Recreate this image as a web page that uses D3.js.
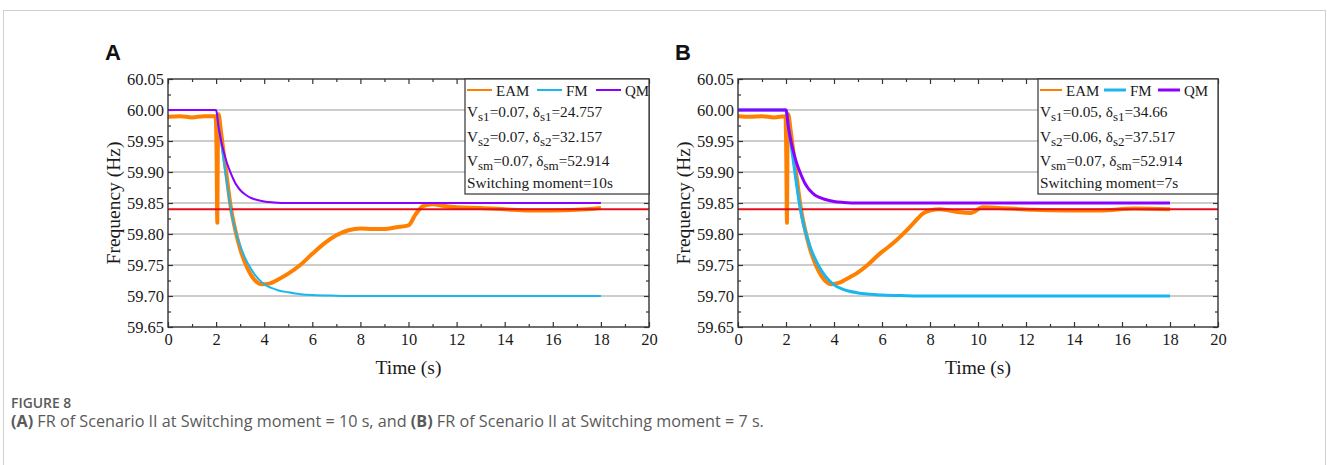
<!DOCTYPE html>
<html>
<head>
<meta charset="utf-8">
<script src="https://cdn.jsdelivr.net/npm/d3@7"></script>
<style>
  html, body { margin: 0; padding: 0; background: #fff; }
  svg { display: block; }
</style>
</head>
<body>
<svg id="chart" width="1327" height="465"></svg>
<script>
// ---------------- DATA ----------------
const xTicks = [0, 2, 4, 6, 8, 10, 12, 14, 16, 18, 20];
const yTicks = [59.65, 59.70, 59.75, 59.80, 59.85, 59.90, 59.95, 60.00, 60.05];
const seriesNames = ["EAM", "FM", "QM"];
const referenceFreq = 59.84;

// Panel A (switching moment = 10 s)
const qmA = [[0,60.00],[2.0,60.00],[2.1,59.973],[2.2,59.952],[2.3,59.935],[2.4,59.921],[2.5,59.909],[2.6,59.899],[2.7,59.890],[2.8,59.882],[2.9,59.876],[3.0,59.871],[3.2,59.864],[3.4,59.859],[3.6,59.856],[3.8,59.854],[4.0,59.8525],[4.4,59.851],[5.0,59.850],[8,59.850],[18,59.850]];
const fmA = [[0,60.00],[2.0,60.00],[2.1,59.975],[2.2,59.949],[2.3,59.922],[2.4,59.895],[2.5,59.868],[2.6,59.843],[2.7,59.822],[2.8,59.807],[2.9,59.793],[3.0,59.781],[3.2,59.762],[3.4,59.747],[3.6,59.735],[3.8,59.726],[4.0,59.719],[4.3,59.713],[4.6,59.709],[5.0,59.706],[5.5,59.703],[6.0,59.7015],[7.0,59.7005],[8.0,59.700],[18,59.700]];
const eamA = [[0,59.989],[0.5,59.990],[1.0,59.988],[1.5,59.990],[1.98,59.990],[2.02,59.93],[2.05,59.818],[2.07,59.93],[2.1,59.993],[2.2,59.966],[2.3,59.935],[2.45,59.890],[2.6,59.846],[2.8,59.806],[3.0,59.776],[3.3,59.745],[3.6,59.726],[3.9,59.719],[4.2,59.720],[4.6,59.727],[5.0,59.736],[5.5,59.750],[6.0,59.768],[6.5,59.785],[7.0,59.798],[7.5,59.806],[8.0,59.809],[8.5,59.808],[9.0,59.808],[9.5,59.811],[10.0,59.814],[10.3,59.832],[10.6,59.845],[11.0,59.848],[11.5,59.845],[12.0,59.843],[13.0,59.842],[14.0,59.840],[15.0,59.838],[16.0,59.838],[17.0,59.839],[18.0,59.842]];
const vsA = ["0.07", "0.07", "0.07"];
const deltaA = ["24.757", "32.157", "52.914"];
const switchA = "10s";

// Panel B (switching moment = 7 s)
const qmB = [[0,60.00],[2.0,60.00],[2.1,59.972],[2.2,59.951],[2.3,59.934],[2.4,59.920],[2.5,59.908],[2.6,59.898],[2.7,59.889],[2.8,59.881],[2.9,59.875],[3.0,59.870],[3.2,59.863],[3.4,59.859],[3.6,59.856],[3.8,59.854],[4.0,59.8525],[4.4,59.851],[5.0,59.850],[8,59.850],[18,59.850]];
const fmB = [[0,60.00],[2.0,60.00],[2.1,59.974],[2.2,59.947],[2.3,59.919],[2.4,59.891],[2.5,59.864],[2.6,59.840],[2.7,59.820],[2.8,59.805],[2.9,59.792],[3.0,59.780],[3.2,59.761],[3.4,59.746],[3.6,59.734],[3.8,59.725],[4.0,59.718],[4.3,59.712],[4.6,59.708],[5.0,59.705],[5.5,59.703],[6.0,59.7015],[7.0,59.7005],[8.0,59.700],[18,59.700]];
const eamB = [[0,59.990],[0.5,59.989],[1.0,59.990],[1.5,59.988],[1.98,59.990],[2.01,59.93],[2.04,59.818],[2.06,59.93],[2.09,59.993],[2.2,59.965],[2.3,59.935],[2.45,59.890],[2.6,59.846],[2.8,59.806],[3.0,59.776],[3.3,59.745],[3.6,59.726],[3.9,59.719],[4.2,59.721],[4.5,59.727],[5.0,59.738],[5.4,59.750],[5.9,59.768],[6.2,59.777],[6.6,59.790],[6.9,59.801],[7.3,59.817],[7.7,59.833],[8.0,59.838],[8.4,59.840],[8.8,59.838],[9.25,59.835],[9.7,59.834],[10.2,59.843],[10.9,59.842],[12.3,59.839],[13.7,59.838],[15.1,59.838],[16.5,59.841],[18.0,59.840]];
const vsB = ["0.05", "0.06", "0.07"];
const deltaB = ["34.66", "37.517", "52.914"];
const switchB = "7s";

const subs = ["s1", "s2", "sm"];
const panelLetters = ["A", "B"];
const captionTitle = "FIGURE 8";

// ---------------- STYLE ----------------
const colors = { EAM: "#FF8000", FM: "#1BB6EE", QM: "#8B00FF", ref: "#E3101A" };
const serif = "'Liberation Serif', 'Times New Roman', serif";

const svg = d3.select("#chart");

// outer frame
svg.append("rect").attr("x", 3.5).attr("y", 10.5).attr("width", 1322).attr("height", 470)
  .attr("fill", "none").attr("stroke", "#d0d0d0").attr("stroke-width", 1);

function drawPanel(cfg) {
  const x = d3.scaleLinear().domain([0, 20]).range([cfg.left, cfg.right]);
  const y = d3.scaleLinear().domain([59.65, 60.05]).range([cfg.bottom, cfg.top]);
  const g = svg.append("g");

  // gridlines
  g.selectAll(".grid").data(yTicks.filter(v => v > 59.66 && v < 60.04)).join("line")
    .attr("x1", x(0)).attr("x2", x(20))
    .attr("y1", d => y(d)).attr("y2", d => y(d))
    .attr("stroke", "#999").attr("stroke-width", 1);

  const minorX = d3.range(1, 20, 2);
  const minorY = d3.range(0, 8).map(i => 59.675 + i * 0.05);

  const mk = (axisFn, scale, vals, size, labels, pad) => axisFn(scale).tickValues(vals)
      .tickSizeInner(-size).tickSizeOuter(0).tickPadding(pad || 6)
      .tickFormat(labels ? labels : () => "");

  const fmtY = d3.format(".2f");
  g.append("g").attr("transform", `translate(0,${cfg.bottom})`)
    .call(mk(d3.axisBottom, x, xTicks, 5, d => d, 6));
  g.append("g").attr("transform", `translate(0,${cfg.bottom})`).call(mk(d3.axisBottom, x, minorX, 3));
  g.append("g").attr("transform", `translate(${cfg.left},0)`)
    .call(mk(d3.axisLeft, y, yTicks, 5, fmtY, 4));
  g.append("g").attr("transform", `translate(${cfg.left},0)`).call(mk(d3.axisLeft, y, minorY, 3));
  g.append("g").attr("transform", `translate(0,${cfg.top})`).call(mk(d3.axisTop, x, xTicks, 5));
  g.append("g").attr("transform", `translate(0,${cfg.top})`).call(mk(d3.axisTop, x, minorX, 3));
  g.append("g").attr("transform", `translate(${cfg.right},0)`).call(mk(d3.axisRight, y, yTicks, 5));
  g.append("g").attr("transform", `translate(${cfg.right},0)`).call(mk(d3.axisRight, y, minorY, 3));

  g.selectAll(".domain").remove();
  g.selectAll(".tick line").attr("stroke", "#333").attr("stroke-width", 1.2);
  g.selectAll(".tick text").attr("font-family", serif).attr("font-size", 16.5).attr("fill", "#1a1a1a");

  // curves
  const line = d3.line().x(d => x(d[0])).y(d => y(d[1])).curve(d3.curveMonotoneX);
  g.append("path").datum(cfg.eam).attr("d", line).attr("fill", "none")
    .attr("stroke", colors.EAM).attr("stroke-width", cfg.eamW).attr("stroke-linejoin", "round");
  g.append("path").datum([[0, referenceFreq], [20, referenceFreq]]).attr("d", line).attr("fill", "none")
    .attr("stroke", colors.ref).attr("stroke-width", 2);
  g.append("path").datum(cfg.fm).attr("d", line).attr("fill", "none")
    .attr("stroke", colors.FM).attr("stroke-width", cfg.fmW);
  g.append("path").datum(cfg.qm).attr("d", line).attr("fill", "none")
    .attr("stroke", colors.QM).attr("stroke-width", cfg.qmW);

  // frame
  g.append("rect").attr("x", cfg.left).attr("y", cfg.top)
    .attr("width", cfg.right - cfg.left).attr("height", cfg.bottom - cfg.top)
    .attr("fill", "none").attr("stroke", "#333").attr("stroke-width", 1.4);

  // legend box
  const lg = g.append("g");
  lg.append("rect").attr("x", cfg.legX).attr("y", cfg.top).attr("width", cfg.right - cfg.legX)
    .attr("height", 115).attr("fill", "#fff").attr("stroke", "#333").attr("stroke-width", 1.2);
  const widths = [cfg.eamLegW, cfg.fmW, cfg.qmW];
  seriesNames.forEach((name, i) => {
    const sx = cfg.legX + cfg.legSampleX[i];
    lg.append("line").attr("x1", sx).attr("x2", sx + cfg.sampleLen).attr("y1", cfg.top + 11).attr("y2", cfg.top + 11)
      .attr("stroke", colors[name]).attr("stroke-width", Math.min(widths[i], 3.2));
    lg.append("text").attr("x", sx + cfg.sampleLen + 4).attr("y", cfg.top + 16.5).text(name)
      .attr("font-family", serif).attr("font-size", 15).attr("fill", "#1a1a1a");
  });
  const rowY = [cfg.top + 38, cfg.top + 63, cfg.top + 87];
  subs.forEach((s, i) => {
    const t = lg.append("text").attr("x", cfg.legX + 2).attr("y", rowY[i])
      .attr("font-family", serif).attr("font-size", 15.3).attr("fill", "#1a1a1a");
    t.append("tspan").text("V");
    t.append("tspan").text(s).attr("font-size", 13).attr("dy", 4);
    t.append("tspan").text("=" + cfg.vs[i] + ", \u03B4").attr("dy", -4);
    t.append("tspan").text(s).attr("font-size", 13).attr("dy", 4);
    t.append("tspan").text("=" + cfg.delta[i]).attr("dy", -4);
  });
  lg.append("text").attr("x", cfg.legX + 2).attr("y", cfg.top + 109)
    .attr("font-family", serif).attr("font-size", 15.3).attr("fill", "#1a1a1a")
    .text("Switching moment=" + cfg.sw);

  // axis titles
  g.append("text").attr("x", (cfg.left + cfg.right) / 2).attr("y", 374).attr("text-anchor", "middle")
    .attr("font-family", serif).attr("font-size", 19.5).attr("fill", "#1a1a1a").text("Time (s)");
  g.append("text").attr("transform", `translate(${cfg.left - 48},${(cfg.top + cfg.bottom) / 2}) rotate(-90)`)
    .attr("text-anchor", "middle").attr("font-family", serif).attr("font-size", 19.5)
    .attr("fill", "#1a1a1a").text("Frequency (Hz)");

  // panel letter
  g.append("text").attr("x", cfg.left - 63).attr("y", 60).text(cfg.letter)
    .attr("font-family", "'Liberation Sans', Arial, sans-serif").attr("font-weight", "bold")
    .attr("font-size", 22).attr("fill", "#111");
}

drawPanel({ left: 168, right: 649, top: 79, bottom: 327, legX: 465, legSampleX: [2, 72, 131], sampleLen: 25,
  eam: eamA, fm: fmA, qm: qmA, eamW: 4, fmW: 2, qmW: 2, eamLegW: 2,
  vs: vsA, delta: deltaA, sw: switchA, letter: panelLetters[0] });
drawPanel({ left: 738, right: 1218, top: 79, bottom: 327, legX: 1038, legSampleX: [2, 66, 120], sampleLen: 22,
  eam: eamB, fm: fmB, qm: qmB, eamW: 4, fmW: 3, qmW: 3, eamLegW: 2,
  vs: vsB, delta: deltaB, sw: switchB, letter: panelLetters[1] });

// caption
const cap = "'Open Sans', 'Noto Sans', sans-serif";
svg.append("text").attr("x", 11).attr("y", 408).text(captionTitle)
  .attr("font-family", cap).attr("font-size", 13.9).attr("font-weight", 600).attr("fill", "#5a5a5a");
const ct = svg.append("text").attr("x", 11).attr("y", 427).attr("font-family", cap)
  .attr("font-size", 16.2).attr("fill", "#5a5a5a");
ct.append("tspan").text("(A)").attr("font-weight", 700);
ct.append("tspan").text(" FR of Scenario II at Switching moment = 10 s, and ");
ct.append("tspan").text("(B)").attr("font-weight", 700);
ct.append("tspan").text(" FR of Scenario II at Switching moment = 7 s.");
</script>
</body>
</html>
